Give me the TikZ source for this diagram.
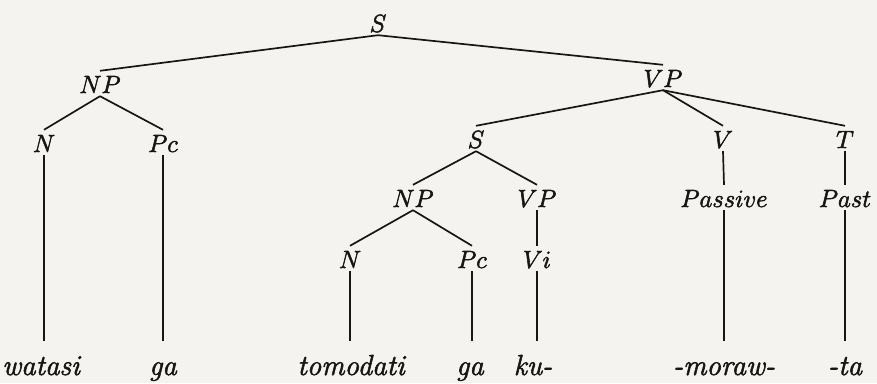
\documentclass[tikz,border=0pt]{standalone}
\usepackage{tikz}
\definecolor{paper}{RGB}{244,243,239}
\definecolor{ink}{RGB}{24,22,20}
\newcommand{\heavyink}{\special{pdf:literal direct 2 Tr 0.55 w}}
\begin{document}
\begin{tikzpicture}[x=1pt,y=-1pt,
  cat/.style={anchor=base,font=\fontsize{29}{32}\selectfont,text=ink,inner xsep=1pt,inner ysep=3pt,text height=19pt,text depth=0pt,execute at begin node=\heavyink},
  word/.style={anchor=base,font=\fontsize{29}{32}\selectfont\itshape,text=ink,inner xsep=1pt,inner ysep=3pt,text height=31pt,text depth=7pt,execute at begin node=\heavyink},
  branch/.style={draw=ink,line width=1.7pt}]
\fill[paper] (0,0) rectangle (877,383);
\useasboundingbox (0,0) rectangle (877,383);
% categories
\node[cat] (S) at (378,32) {$S$};
\node[cat] (NPa) at (100,93) {$NP$};
\node[cat] (VPa) at (663,87) {$VP$};
\node[cat] (Na) at (44,152) {$N$};
\node[cat] (Pca) at (163,152) {$Pc$};
\node[cat] (Sb) at (476,148) {$S$};
\node[cat] (V) at (723,148) {$V$};
\node[cat] (T) at (845,148) {$T$};
\node[cat] (NPb) at (413,207) {$NP$};
\node[cat] (VPb) at (537,207) {$VP$};
\node[cat] (Pass) at (724,207) {$Passive$};
\node[cat] (Past) at (845,207) {$Past$};
\node[cat] (Nb) at (350,268) {$N$};
\node[cat] (Pcb) at (472,268) {$Pc$};
\node[cat] (Vi) at (537,268) {$Vi$};
% words
\node[word] (w1) at (41,375) {watasi};
\node[word] (w2) at (163,375) {ga};
\node[word] (w3) at (351,375) {tomodati};
\node[word] (w4) at (470,375) {ga};
\node[word] (w5) at (533,375) {ku-};
\node[word] (w6) at (724,375) {-moraw-};
\node[word] (w7) at (845,375) {-ta};
% branches
\draw[branch] (S.south) -- (NPa.north);
\draw[branch] (S.south) -- (VPa.north);
\draw[branch] (NPa.south) -- (Na.north);
\draw[branch] (NPa.south) -- (Pca.north);
\draw[branch] (VPa.south) -- (Sb.north);
\draw[branch] (VPa.south) -- (V.north);
\draw[branch] (VPa.south) -- (T.north);
\draw[branch] (Sb.south) -- (NPb.north);
\draw[branch] (Sb.south) -- (VPb.north);
\draw[branch] (NPb.south) -- (Nb.north);
\draw[branch] (NPb.south) -- (Pcb.north);
\draw[branch] (VPb.south) -- (Vi.north);
\draw[branch] (V.south) -- (Pass.north);
\draw[branch] (T.south) -- (Past.north);
\draw[branch] (Na.south) -- (Na.south |- w1.north);
\draw[branch] (Pca.south) -- (Pca.south |- w2.north);
\draw[branch] (Nb.south) -- (Nb.south |- w3.north);
\draw[branch] (Pcb.south) -- (Pcb.south |- w4.north);
\draw[branch] (Vi.south) -- (Vi.south |- w5.north);
\draw[branch] (Pass.south) -- (Pass.south |- w6.north);
\draw[branch] (Past.south) -- (Past.south |- w7.north);
\end{tikzpicture}
\end{document}
